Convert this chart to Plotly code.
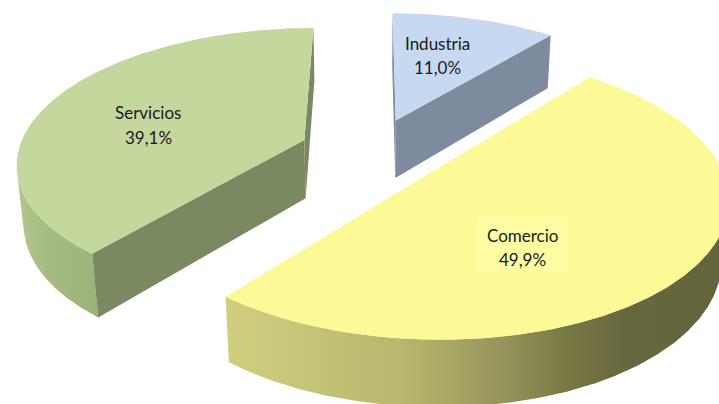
import numpy as np
import plotly.graph_objects as go

# ---------------- data ----------------
categories = ["Industria", "Comercio", "Servicios"]
values = [11.0, 49.9, 39.1]          # percent
value_labels = ["11,0%", "49,9%", "39,1%"]

# ---------------- style ----------------
top_colors = ["#C6D9F1", "#FBFA96", "#C4D79D"]
cut_colors = ["#7E8B9F", "#6A6A40", "#7A8961"]
wall_scales = [
    [[0, "#A0AEC4"], [1, "#7F8CA0"]],
    [[0, "#D1CF7F"], [0.35, "#B9B76E"], [0.55, "#96955A"], [0.68, "#787846"], [0.8, "#67673F"], [1, "#64643D"]],
    [[0, "#B3C78E"], [0.4, "#A5BA80"], [1, "#9EB37A"]],
]
FONT = "Lato"
# label anchors (name line, value line) in pixel space
label_pos = [((437, 43), (437, 67)), ((522, 235), (522, 259)), ((148, 112), (148, 137))]

# 3D pie geometry (perspective view)
CX, CY = 371.95, 151.06      # screen position of pie centre
SCALE = 286.2                # radius in pixels at centre depth
CAM_D = 5.64                 # camera distance in radii
ELEV = 0.4825                # view elevation (rad)
THICK = 0.237                # pie thickness in radii
EXPLODE = 0.254              # explode distance in radii
START = 0.0                  # first slice angle (clockwise from 12 o'clock)

W, H = 719, 404

bounds = np.concatenate([[0.0], np.cumsum(values)]) / sum(values) * 2 * np.pi + START


def project(X, Z, Y):
    yv = Z * np.sin(ELEV) + Y * np.cos(ELEV)
    dep = Z * np.cos(ELEV) - Y * np.sin(ELEV)
    k = CAM_D / (CAM_D + dep)
    return CX + SCALE * X * k, CY - SCALE * yv * k


def slice_pt(i, ang, r, lev):
    m = (bounds[i] + bounds[i + 1]) / 2
    X = r * np.sin(ang) + EXPLODE * np.sin(m)
    Z = r * np.cos(ang) + EXPLODE * np.cos(m)
    Y = -THICK * lev + 0 * np.asarray(ang, float)
    return project(X, Z, Y)


cam = np.array([0, CAM_D * np.sin(ELEV), -CAM_D * np.cos(ELEV)])
fig = go.Figure()


def center_depth(i):
    m = (bounds[i] + bounds[i + 1]) / 2
    return EXPLODE * np.cos(m)


def poly(xs, ys, **kw):
    fig.add_trace(go.Scatter(x=list(xs), y=list(ys), fill="toself", mode="lines",
                             line=dict(width=0), hoverinfo="skip", showlegend=False, **kw))


for i in sorted(range(len(values)), key=lambda j: -center_depth(j)):
    a0, a1 = bounds[i], bounds[i + 1]
    m = (a0 + a1) / 2
    off = np.array([EXPLODE * np.sin(m), 0, EXPLODE * np.cos(m)])

    # outer wall: only the parts facing the camera
    angs = np.linspace(a0, a1, 400)
    pts = np.stack([np.sin(angs) + off[0], np.full_like(angs, -THICK / 2), np.cos(angs) + off[2]], 1)
    nrm = np.stack([np.sin(angs), 0 * angs, np.cos(angs)], 1)
    vis = np.einsum("ij,ij->i", nrm, cam - pts) > 0
    idx = np.where(vis)[0]
    if len(idx):
        for run in np.split(idx, np.where(np.diff(idx) > 1)[0] + 1):
            ang = angs[run]
            tx, ty = slice_pt(i, ang, 1, 0)
            bx, by = slice_pt(i, ang, 1, 1)
            poly(np.concatenate([tx, bx[::-1], tx[:1]]), np.concatenate([ty, by[::-1], ty[:1]]),
                 fillgradient=dict(type="horizontal", colorscale=wall_scales[i]))

    # radial cut faces
    for a, n in [(a0, np.array([-np.cos(a0), 0, np.sin(a0)])), (a1, np.array([np.cos(a1), 0, -np.sin(a1)]))]:
        c = off + 0.5 * np.array([np.sin(a), -THICK, np.cos(a)])
        if np.dot(n, cam - c) > 0:
            xs, ys = [], []
            for r, lev in [(0, 0), (1, 0), (1, 1), (0, 1), (0, 0)]:
                qx, qy = slice_pt(i, a, r, lev)
                xs.append(float(qx)); ys.append(float(qy))
            poly(xs, ys, fillcolor=cut_colors[i])

    # top face
    ang = np.linspace(a0, a1, 300)
    tx, ty = slice_pt(i, ang, 1, 0)
    ax_, ay_ = slice_pt(i, m, 0, 0)
    poly(np.concatenate([[ax_], tx, [ax_]]), np.concatenate([[ay_], ty, [ay_]]), fillcolor=top_colors[i])

# label background of Comercio (Excel keeps a light box behind it)
fig.add_shape(type="rect", x0=477, x1=568, y0=217, y1=272, xref="x", yref="y",
              fillcolor="#FDFCA2", line=dict(width=0), layer="above")

for i, name in enumerate(categories):
    (nx, ny), (vx, vy) = label_pos[i]
    fig.add_annotation(x=nx, y=ny, text=name, showarrow=False, xanchor="center", yanchor="middle",
                       font=dict(family=FONT, size=17, color="#1a1a1a"))
    fig.add_annotation(x=vx, y=vy, text=value_labels[i], showarrow=False, xanchor="center", yanchor="middle",
                       font=dict(family=FONT, size=17, color="#1a1a1a"))

fig.update_layout(width=W, height=H, margin=dict(l=0, r=0, t=0, b=0), autosize=False,
                  paper_bgcolor="white", plot_bgcolor="white",
                  xaxis=dict(range=[0, W], visible=False, fixedrange=True),
                  yaxis=dict(range=[H, 0], visible=False, fixedrange=True))
fig.write_html("out.html", config={"displayModeBar": False},
               post_script="document.body.style.margin='0';document.body.style.overflow='hidden';")
